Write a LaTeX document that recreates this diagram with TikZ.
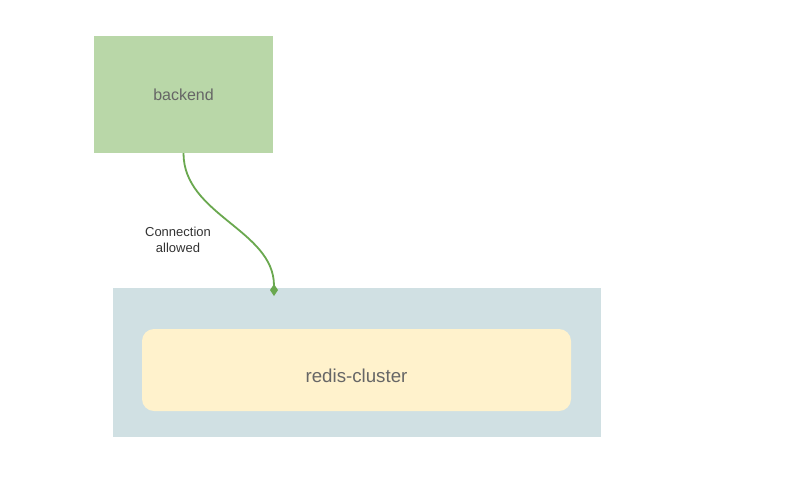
\documentclass[tikz,border=0pt]{standalone}
\usepackage{fontspec}
\setmainfont{Liberation Sans}
\usetikzlibrary{arrows.meta}
\definecolor{bkfill}{HTML}{B9D7A8}
\definecolor{outerfill}{HTML}{D0E0E3}
\definecolor{innerfill}{HTML}{FFF2CC}
\definecolor{txtgrey}{HTML}{666666}
\definecolor{lblgrey}{HTML}{333333}
\definecolor{linkgreen}{HTML}{6AA84F}
\begin{document}
\begin{tikzpicture}[x=1pt,y=-1pt,
  svcbox/.style={fill=bkfill,draw=none,minimum width=179pt,minimum height=117pt,inner sep=0pt,text=txtgrey,font=\fontsize{16}{19}\selectfont},
  groupbox/.style={fill=outerfill,draw=none,minimum width=488pt,minimum height=149pt,inner sep=0pt},
  clusterbox/.style={fill=innerfill,draw=none,rounded corners=12pt,minimum width=429pt,minimum height=82pt,inner sep=0pt,text=txtgrey,font=\fontsize{18.7}{22}\selectfont},
  linklabel/.style={text=lblgrey,font=\fontsize{13}{16}\selectfont,align=center},
  link/.style={draw=linkgreen,line width=1.8pt,-{Diamond[length=12pt,width=8pt]}}]
\useasboundingbox[fill=white] (0,0) rectangle (800,480);
\node[svcbox] (backend) at (183.5,94.5) {backend};
\node[groupbox] (group) at (357,362.5) {};
\node[clusterbox] (cluster) at (356.5,370) {\raisebox{-12pt}[0pt][0pt]{redis-cluster}};
\coordinate (tip) at (274,296);
\draw[link] (backend.south) .. controls (183.5,215) and (274,230) .. (tip);
\node[linklabel] (lbl) at (178,240) {Connection\\allowed};
\end{tikzpicture}
\end{document}
